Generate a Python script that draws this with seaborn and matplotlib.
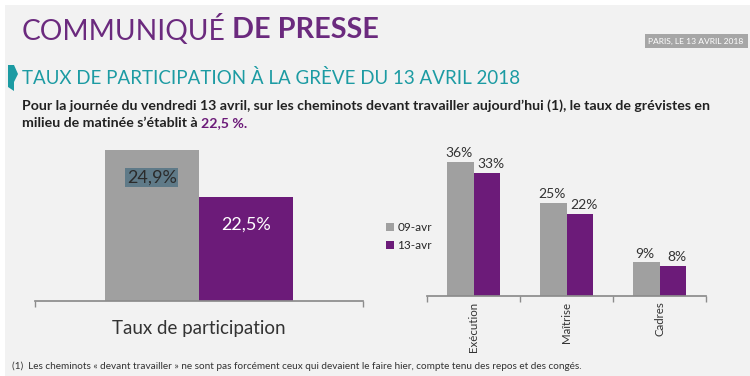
import matplotlib
matplotlib.use("Agg")
import matplotlib.pyplot as plt
from matplotlib.patches import Rectangle, Polygon
import seaborn as sns
import pandas as pd

# Data
dates = ["09-avr", "13-avr"]
global_label = "Taux de participation"
global_rates = [24.9, 22.5]
categories = ["Exécution", "Maîtrise", "Cadres"]
rates_0904 = [36, 25, 9]
rates_1304 = [33, 22, 8]

GREY = "#a0a0a0"
PURPLE = "#6c1b79"
TEAL = "#1c9ba3"
BG = "#f2f2f2"

sns.set_theme(style="white")
FONT = ["Lato", "DejaVu Sans"]
plt.rcParams["font.family"] = FONT

W, H = 750, 376
fig = plt.figure(figsize=(7.5, 3.76), dpi=100)
fig.patch.set_facecolor("white")


def fx(x):
    return x / W


def fy(y):
    return 1 - y / H


def fit(txt, width):
    # shrink/grow a text so it spans the given pixel width
    fig.canvas.draw()
    w = txt.get_window_extent().width
    txt.set_fontsize(txt.get_fontsize() * width / w)
    fig.canvas.draw()
    return txt.get_window_extent()


# background panel
fig.patches.append(Rectangle((fx(5), 0), 1 - fx(5), fy(5), transform=fig.transFigure,
                             facecolor=BG, edgecolor="none", zorder=-5))

# header
t = fig.text(fx(22), fy(30), "COMMUNIQUÉ", color="#6b2a7e", fontsize=24,
             va="center", ha="left")
fit(t, 203)
t = fig.text(fx(232), fy(30), "DE PRESSE", color="#6b2a7e", fontsize=24,
             fontweight="bold", va="center", ha="left")
fit(t, 146)
fig.patches.append(Rectangle((fx(645), fy(48)), fx(103), 14 / H, transform=fig.transFigure,
                             facecolor="#a6a6a6", edgecolor="none"))
t = fig.text(fx(696), fy(41), "PARIS, LE 13 AVRIL 2018", color="white", fontsize=6,
             ha="center", va="center")
fit(t, 96)

# teal marker + subtitle
fig.patches.append(Polygon([(fx(8), fy(65)), (fx(14), fy(65)), (fx(18), fy(74)),
                            (fx(14), fy(82)), (fx(14), fy(91)), (fx(8), fy(87))],
                           closed=True, transform=fig.transFigure, facecolor=TEAL,
                           edgecolor="none"))
t = fig.text(fx(22), fy(78), "TAUX DE PARTICIPATION À LA GRÈVE DU 13 AVRIL 2018", color=TEAL,
             fontsize=17, va="center", ha="left")
fit(t, 498)

t = fig.text(fx(22), fy(106), "Pour la journée du vendredi 13 avril, sur les cheminots devant "
             "travailler aujourd’hui (1), le taux de grévistes en", color="#222222",
             fontsize=10.5, fontweight="bold", va="center", ha="left")
fit(t, 693)
body_fs = t.get_fontsize()
t1 = fig.text(fx(22), fy(123), "milieu de matinée s’établit à ", color="#222222",
              fontsize=body_fs, fontweight="bold", va="center", ha="left")
fig.canvas.draw()
bb = t1.get_window_extent()
fig.text(bb.x1 / W, fy(123), "22,5 %.", color=PURPLE, fontsize=body_fs,
         fontweight="bold", va="center", ha="left")

t = fig.text(fx(12), fy(366), "(1)  Les cheminots « devant travailler » ne sont pas forcément ceux "
             "qui devaient le faire hier, compte tenu des repos et des congés.", color="#333333",
             fontsize=6.5, va="center", ha="left")
fit(t, 565)

# left chart
df_left = pd.DataFrame({"cat": [global_label] * 2, "date": dates, "val": global_rates})
ax1 = fig.add_axes([fx(35), fy(301), fx(328), 163 / H])
ax1.set_facecolor("none")
sns.barplot(data=df_left, x="cat", y="val", hue="date", palette=[GREY, PURPLE],
            width=0.576, gap=0, saturation=1, legend=False, linewidth=0, ax=ax1)
ax1.set_xlim(-0.5, 0.5)
ax1.set_ylim(17.2, 25.5)
ax1.set_yticks([])
ax1.set_xlabel("")
ax1.set_ylabel("")
for s in ["top", "right", "left"]:
    ax1.spines[s].set_visible(False)
ax1.spines["bottom"].set_color("#8c8c8c")
ax1.tick_params(axis="x", length=0, labelsize=13.5, colors="#333333", pad=14)
ax1.set_xticks([-0.5, 0.5], minor=True)
ax1.tick_params(axis="x", which="minor", length=4, color="#8c8c8c", direction="out", bottom=True)
label_styles = [dict(color="#2b2b2b", bbox=dict(facecolor="#5f7a88", edgecolor="none", pad=1)),
                dict(color="white")]
for p, v, st in zip(ax1.patches, global_rates, label_styles):
    ax1.annotate(f"{v:.1f}%".replace(".", ","), (p.get_x() + p.get_width() / 2, p.get_height()),
                 xytext=(0, -20), textcoords="offset points", ha="center", va="center",
                 fontsize=13, **st)

# right chart
df_right = pd.DataFrame({"cat": categories * 2,
                         "date": [dates[0]] * 3 + [dates[1]] * 3,
                         "val": rates_0904 + rates_1304})
ax2 = fig.add_axes([fx(427), fy(296), fx(279), 149 / H])
ax2.set_facecolor("none")
sns.barplot(data=df_right, x="cat", y="val", hue="date", palette=[GREY, PURPLE],
            width=0.57, gap=0, saturation=1, linewidth=0, ax=ax2)
ax2.set_xlim(-0.5, 2.5)
ax2.set_ylim(0, 40)
ax2.set_yticks([])
ax2.set_xlabel("")
ax2.set_ylabel("")
for s in ["top", "right", "left"]:
    ax2.spines[s].set_visible(False)
ax2.spines["bottom"].set_color("#8c8c8c")
ax2.tick_params(axis="x", length=0, labelsize=8.3, colors="#333333", labelrotation=90, pad=4)
ax2.set_xticks([-0.5, 0.5, 1.5, 2.5], minor=True)
ax2.tick_params(axis="x", which="minor", length=4, color="#8c8c8c", direction="out", bottom=True)
# purple labels sit a touch to the right, like the original
for c, dx in zip(ax2.containers, [-1, 3]):
    for lb in ax2.bar_label(c, fmt="%d%%", padding=2, fontsize=10, color="#333333"):
        lb.xyann = (dx, lb.xyann[1])
ax2.legend(loc="center left", bbox_to_anchor=(-46 / 279, 0.40), frameon=False,
           fontsize=8.5, handlelength=0.7, handleheight=0.7, handletextpad=0.3,
           labelspacing=0.6, borderaxespad=0)

fig.savefig("out.png", dpi=100, facecolor=fig.get_facecolor())
